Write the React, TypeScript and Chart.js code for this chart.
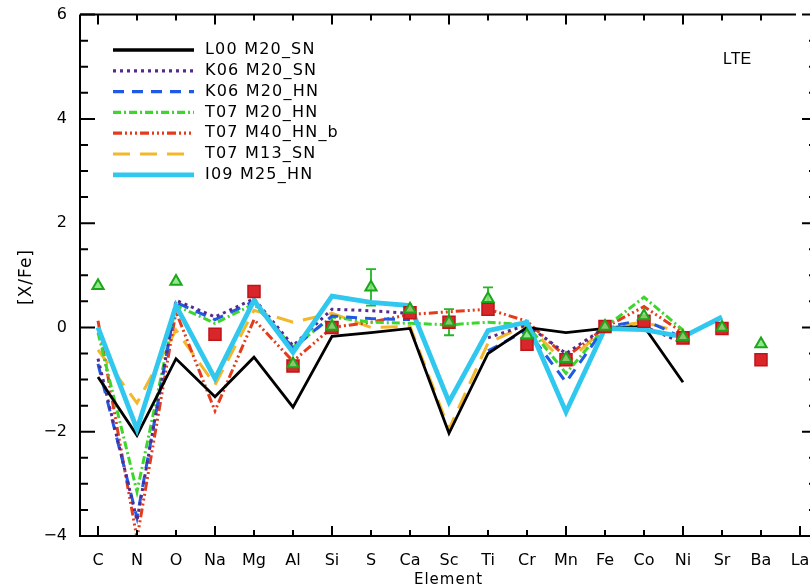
import { useEffect, useRef } from "react";
import { Chart, registerables } from "chart.js";
Chart.register(...registerables);

const elements = ["C", "N", "O", "Na", "Mg", "Al", "Si", "S", "Ca", "Sc", "Ti", "Cr", "Mn", "Fe", "Co", "Ni", "Sr", "Ba", "La"];
const yTickValues = [-4, -2, 0, 2, 4, 6];

const l00_m20_sn = [-0.95, -2.07, -0.6, -1.33, -0.57, -1.53, -0.17, -0.1, -0.02, -2.03, -0.5, 0.0, -0.1, -0.02, 0.02, -1.05, null, null, null];
const k06_m20_sn = [-0.6, -3.7, 0.52, 0.2, 0.55, -0.35, 0.35, 0.32, 0.27, null, -0.2, 0.05, -0.5, 0.0, 0.02, -0.3, null, null, null];
const k06_m20_hn = [-0.7, -3.65, 0.48, 0.15, 0.5, -0.4, 0.22, 0.17, 0.15, null, -0.45, -0.05, -1.05, 0.0, 0.15, -0.2, null, null, null];
const t07_m20_hn = [-0.1, -3.15, 0.42, 0.08, 0.45, -0.38, 0.2, 0.1, 0.08, 0.05, 0.1, 0.05, -0.88, 0.0, 0.58, -0.05, null, null, null];
const t07_m40_hn_b = [0.13, -4.05, 0.3, -1.6, 0.15, -0.65, 0.0, 0.1, 0.25, 0.3, 0.35, 0.12, -0.57, 0.0, 0.4, -0.1, null, null, null];
const t07_m13_sn = [-0.43, -1.45, -0.05, -1.1, 0.33, 0.1, 0.27, 0.0, 0.02, -1.95, -0.3, 0.05, -0.7, 0.0, 0.1, -0.1, null, null, null];
const i09_m25_hn = [0.0, -1.95, 0.42, -0.98, 0.52, -0.48, 0.6, 0.48, 0.42, -1.43, -0.06, 0.1, -1.62, -0.02, -0.04, -0.18, 0.2, null, null];

const obsTriangle = [0.8, null, 0.88, null, null, -0.7, 0.02, 0.77, 0.35, 0.1, 0.55, -0.15, -0.6, 0.02, 0.22, -0.18, 0.0, -0.32, null];
const obsTriangleErr = [0, 0, 0, 0, 0, 0, 0, 0.35, 0, 0.25, 0.22, 0, 0, 0, 0, 0, 0, 0, 0];
const obsSquare = [null, null, null, -0.13, 0.69, -0.74, 0.0, null, 0.28, 0.1, 0.35, -0.32, -0.62, 0.02, 0.12, -0.2, -0.02, -0.62, null];

const seriesNames = ["L00 M20_SN", "K06 M20_SN", "K06 M20_HN", "T07 M20_HN", "T07 M40_HN_b", "T07 M13_SN", "I09 M25_HN"];
const seriesValues = [l00_m20_sn, k06_m20_sn, k06_m20_hn, t07_m20_hn, t07_m40_hn_b, t07_m13_sn, i09_m25_hn];
const seriesColors = ["#000000", "#552a8c", "#1f5ae6", "#3cd62c", "#e23c1c", "#f2b82a", "#30c8ee"];
const seriesDash = [[], [3, 4], [11, 8], [8, 3, 2, 3], [9, 3, 2, 3, 2, 3, 2, 3], [17, 10], []];
const seriesWidth = [2.8, 3, 3, 3, 3, 3, 4.8];
const seriesOrder = [4, 5, 6, 7, 8, 9, 3];

const XMIN = -0.4615;
const XMAX = 18.436;
const FONT = "'DejaVu Sans', sans-serif";

const fmtY = (v: number) => (v < 0 ? "\u2212" + Math.abs(v) : String(v));

const axesPlugin = {
  id: "idlAxes",
  beforeDatasetsDraw(chart: any) {
    const { ctx, scales } = chart;
    const xs = scales.x, ys = scales.y;
    ctx.save();
    ctx.strokeStyle = "#22b822";
    ctx.lineWidth = 1.8;
    obsTriangle.forEach((v, i) => {
      const e = obsTriangleErr[i];
      if (v === null || !e) return;
      const px = xs.getPixelForValue(i);
      const y1 = ys.getPixelForValue(v + e);
      const y2 = ys.getPixelForValue(v - e);
      ctx.beginPath();
      ctx.moveTo(px, y1); ctx.lineTo(px, y2);
      ctx.moveTo(px - 5, y1); ctx.lineTo(px + 5, y1);
      ctx.moveTo(px - 5, y2); ctx.lineTo(px + 5, y2);
      ctx.stroke();
    });
    ctx.restore();
  },
  afterDraw(chart: any) {
    const { ctx, chartArea, scales } = chart;
    const xs = scales.x, ys = scales.y;
    const { left, right, top, bottom } = chartArea;
    ctx.save();
    ctx.strokeStyle = "#000";
    ctx.lineWidth = 2;
    ctx.setLineDash([]);
    ctx.beginPath();
    ctx.moveTo(left, top); ctx.lineTo(left, bottom); ctx.lineTo(right, bottom);
    ctx.moveTo(left, top); ctx.lineTo(796, top);
    ctx.moveTo(right, top); ctx.lineTo(right, bottom);
    ctx.stroke();
    for (let k = 0; k <= 20; k++) {
      const v = -4 + k * 0.5;
      const py = ys.getPixelForValue(v);
      const len = k % 4 === 0 ? 15 : 8;
      ctx.beginPath();
      ctx.moveTo(left, py); ctx.lineTo(left + len, py);
      ctx.moveTo(right, py); ctx.lineTo(right - len, py);
      ctx.stroke();
    }
    elements.forEach((_, i) => {
      const px = xs.getPixelForValue(i);
      const len = i % 3 === 0 ? 10 : 6;
      ctx.beginPath();
      ctx.moveTo(px, bottom); ctx.lineTo(px, bottom - len);
      if (px < 796) { ctx.moveTo(px, top); ctx.lineTo(px, top + len); }
      ctx.stroke();
    });
    ctx.fillStyle = "#000";
    ctx.font = `15px ${FONT}`;
    (ctx as any).letterSpacing = "1px";
    ctx.textAlign = "center";
    ctx.textBaseline = "middle";
    ctx.fillText("Element", (left + right) / 2, 580);
    ctx.save();
    ctx.translate(27, 277);
    ctx.rotate(-Math.PI / 2);
    ctx.font = `17px ${FONT}`;
    ctx.fillText("[X/Fe]", 0, 0);
    ctx.restore();
    (ctx as any).letterSpacing = "0px";
    ctx.font = `16px 'Liberation Sans', sans-serif`;
    ctx.textAlign = "left";
    ctx.fillText("LTE", 723, 60);
    ctx.font = `16px ${FONT}`;
    (ctx as any).letterSpacing = "1.2px";
    seriesNames.forEach((name, i) => {
      const y = 50 + i * 20.8;
      ctx.strokeStyle = seriesColors[i];
      ctx.lineWidth = i === 6 ? 4.8 : i === 0 ? 3.5 : 3.2;
      ctx.lineCap = "butt";
      ctx.setLineDash(seriesDash[i]);
      ctx.beginPath();
      ctx.moveTo(113, y); ctx.lineTo(194, y);
      ctx.stroke();
      ctx.setLineDash([]);
      ctx.fillStyle = "#000";
      ctx.fillText(name, 205, y);
    });
    ctx.restore();
  },
};

export default function App() {
  const ref = useRef<HTMLCanvasElement>(null);
  useEffect(() => {
    const canvas = ref.current!;
    const toPts = (arr: (number | null)[]) => arr.map((v, i) => ({ x: i, y: v }));
    const lineSets = seriesValues.map((vals, i) => ({
      label: seriesNames[i],
      data: toPts(vals),
      borderColor: seriesColors[i],
      backgroundColor: seriesColors[i],
      borderWidth: seriesWidth[i],
      borderDash: seriesDash[i],
      borderCapStyle: "butt",
      borderJoinStyle: "miter",
      pointRadius: 0,
      tension: 0,
      spanGaps: false,
      fill: false,
      order: seriesOrder[i],
    }));
    const chart = new Chart(canvas, {
      type: "line",
      data: {
        datasets: [
          ...lineSets,
          {
            label: "obs squares",
            data: toPts(obsSquare),
            showLine: false,
            pointStyle: "rect",
            pointRadius: 8.5,
            pointBackgroundColor: "#d8262a",
            pointBorderColor: "#c01418",
            pointBorderWidth: 1.5,
            order: 1,
          },
          {
            label: "obs triangles",
            data: toPts(obsTriangle),
            showLine: false,
            pointStyle: "triangle",
            pointRadius: 6.5,
            pointBackgroundColor: "rgba(130,225,120,0.85)",
            pointBorderColor: "#1aa81a",
            pointBorderWidth: 2,
            order: 0,
          },
        ] as any,
      },
      options: {
        responsive: false,
        animation: false,
        devicePixelRatio: 1,
        layout: { padding: { left: 0, right: 13, top: 13, bottom: 0 }, autoPadding: false } as any,
        plugins: { legend: { display: false }, tooltip: { enabled: false } },
        scales: {
          x: {
            type: "linear",
            min: XMIN,
            max: XMAX,
            afterFit: (s: any) => { s.height = 52; },
            grid: { display: false },
            border: { display: false },
            ticks: {
              stepSize: 1,
              includeBounds: false,
              autoSkip: false,
              maxRotation: 0,
              padding: 7,
              color: "#000",
              font: { family: FONT, size: 16 },
              callback: (v: any) => elements[Math.round(Number(v))] ?? "",
            },
          },
          y: {
            type: "linear",
            min: -4,
            max: 6,
            afterFit: (s: any) => { s.width = 80; },
            afterBuildTicks: (s: any) => { s.ticks = yTickValues.map((v) => ({ value: v })); },
            grid: { display: false },
            border: { display: false },
            ticks: {
              padding: 5,
              color: "#000",
              font: { family: FONT, size: 16 },
              callback: (v: any) => fmtY(Number(v)),
            },
          },
        },
      } as any,
      plugins: [axesPlugin],
    });
    return () => chart.destroy();
  }, []);
  return (
    <div style={{ position: "absolute", left: 0, top: 0, width: 810, height: 588, overflow: "hidden", background: "#fff" }}>
      <canvas ref={ref} width={830} height={588} style={{ display: "block" }} />
    </div>
  );
}
